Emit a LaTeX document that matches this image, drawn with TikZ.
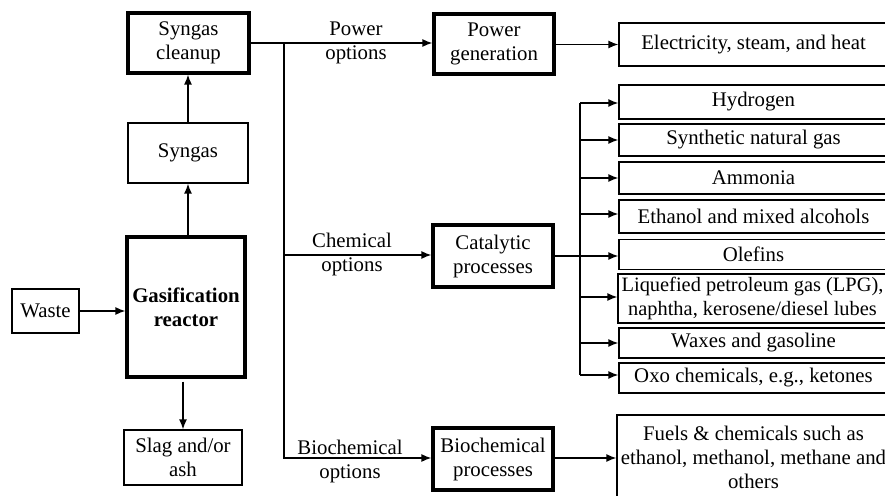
\documentclass[tikz,border=0pt]{standalone}
\usepackage{fontspec}
\setmainfont{Liberation Serif}
\usetikzlibrary{arrows.meta}
\begin{document}
\begin{tikzpicture}[x=1pt,y=-1pt,
  every node/.style={font=\fontsize{20.8}{24}\selectfont},
  box/.style={draw, line width=1.3pt, align=center, inner sep=0pt},
  heavybox/.style={draw, line width=3.2pt, align=center, inner sep=0pt},
  conn/.style={line width=1.4pt},
  arr/.style={conn, -{Latex[length=10pt,width=8pt]}},
  optlabel/.style={align=center, inner sep=0pt}]
\useasboundingbox (0,0) rectangle (885,495);
\clip (0,0) rectangle (885,495);

% gasification chain
\node[box, minimum width=67pt, minimum height=44pt] (waste) at (45.5,311) {Waste};
\node[heavybox, minimum width=118pt, minimum height=140pt, font=\fontsize{20.8}{24}\selectfont\bfseries] (reactor) at (186,307) {Gasification\\reactor};
\node[box, minimum width=120pt, minimum height=60pt] (syngas) at (188,153) {Syngas};
\node[heavybox, minimum width=121pt, minimum height=60pt] (cleanup) at (188.5,43) {Syngas\\cleanup};
\node[box, minimum width=118pt, minimum height=55pt] (slag) at (183,457.5) {Slag and/or\\ash};

% process boxes
\node[heavybox, minimum width=120pt, minimum height=60pt] (power) at (494,44) {Power\\generation};
\node[heavybox, minimum width=120pt, minimum height=62pt] (catalytic) at (493,256) {Catalytic\\processes};
\node[heavybox, minimum width=120pt, minimum height=62pt] (biochem) at (493,459) {Biochemical\\processes};

% option labels
\node[optlabel] (powopt) at (356,42.5) {Power\\options};
\node[optlabel] (chemopt) at (352,254) {Chemical\\options};
\node[optlabel] (bioopt) at (350,461) {Biochemical\\options};

% products
\tikzset{prod/.style={box, minimum width=269pt}}
\node[prod, minimum height=43pt] (elec) at (753.5,44.5) {Electricity, steam, and heat};
\node[prod, minimum height=34pt] (hyd) at (753.5,102) {Hydrogen};
\node[prod, minimum height=32pt] (sng) at (753.5,140) {Synthetic natural gas};
\node[prod, minimum height=32pt] (amm) at (753.5,178) {Ammonia};
\node[prod, minimum height=33pt] (eth) at (753.5,216.5) {Ethanol and mixed alcohols};
\node[prod, minimum height=30pt] (ole) at (753.5,254.5) {Olefins};
\node[prod, minimum height=49pt, font=\fontsize{20.4}{24}\selectfont] (lpg) at (752.5,298.5) {Liquefied petroleum gas (LPG),\\naphtha, kerosene/diesel lubes};
\node[prod, minimum height=30pt] (wax) at (753.5,343) {Waxes and gasoline};
\node[prod, minimum height=30pt] (oxo) at (753.5,378) {Oxo chemicals, e.g., ketones};
\node[box, minimum width=273pt, minimum height=84pt] (fuels) at (753.5,457) {Fuels \& chemicals such as\\ethanol, methanol, methane and\\others};

% vertical flow
\draw[arr] (waste.east) -- (waste.east -| reactor.west);
\draw[arr] (syngas.south |- reactor.north) -- (syngas.south);
\draw[arr] (syngas.north) -- (syngas.north |- cleanup.south);
\draw[arr, shorten <=3pt] (slag.north |- reactor.south) -- (slag.north);

% distribution bus
\coordinate (bustop) at (284,43);
\coordinate (busbot) at (284,458);
\draw[conn] (cleanup.east) -- (bustop);
\draw[arr] (bustop) -- (bustop -| power.west);
\draw[arr] (bustop) |- (busbot) -- (busbot -| biochem.west);
\draw[arr] (284,255) -- (catalytic.west |- 284,255);

% outputs
\draw[arr] (power.east |- elec.west) -- (elec.west);
\draw[arr] (biochem.east |- 0,458) -- (fuels.west |- 0,458);
\draw[arr] (catalytic.east) -- (catalytic.east -| ole.west);
\coordinate (pbtop) at (580,103);
\coordinate (pbbot) at (580,375);
\draw[conn] (pbtop) -- (pbbot);
\foreach \n/\yy in {hyd/103, sng/140, amm/178, eth/214, lpg/297, wax/343, oxo/375}
  \draw[arr] (580,\yy) -- (\n.west |- 0,\yy);
\end{tikzpicture}
\end{document}
